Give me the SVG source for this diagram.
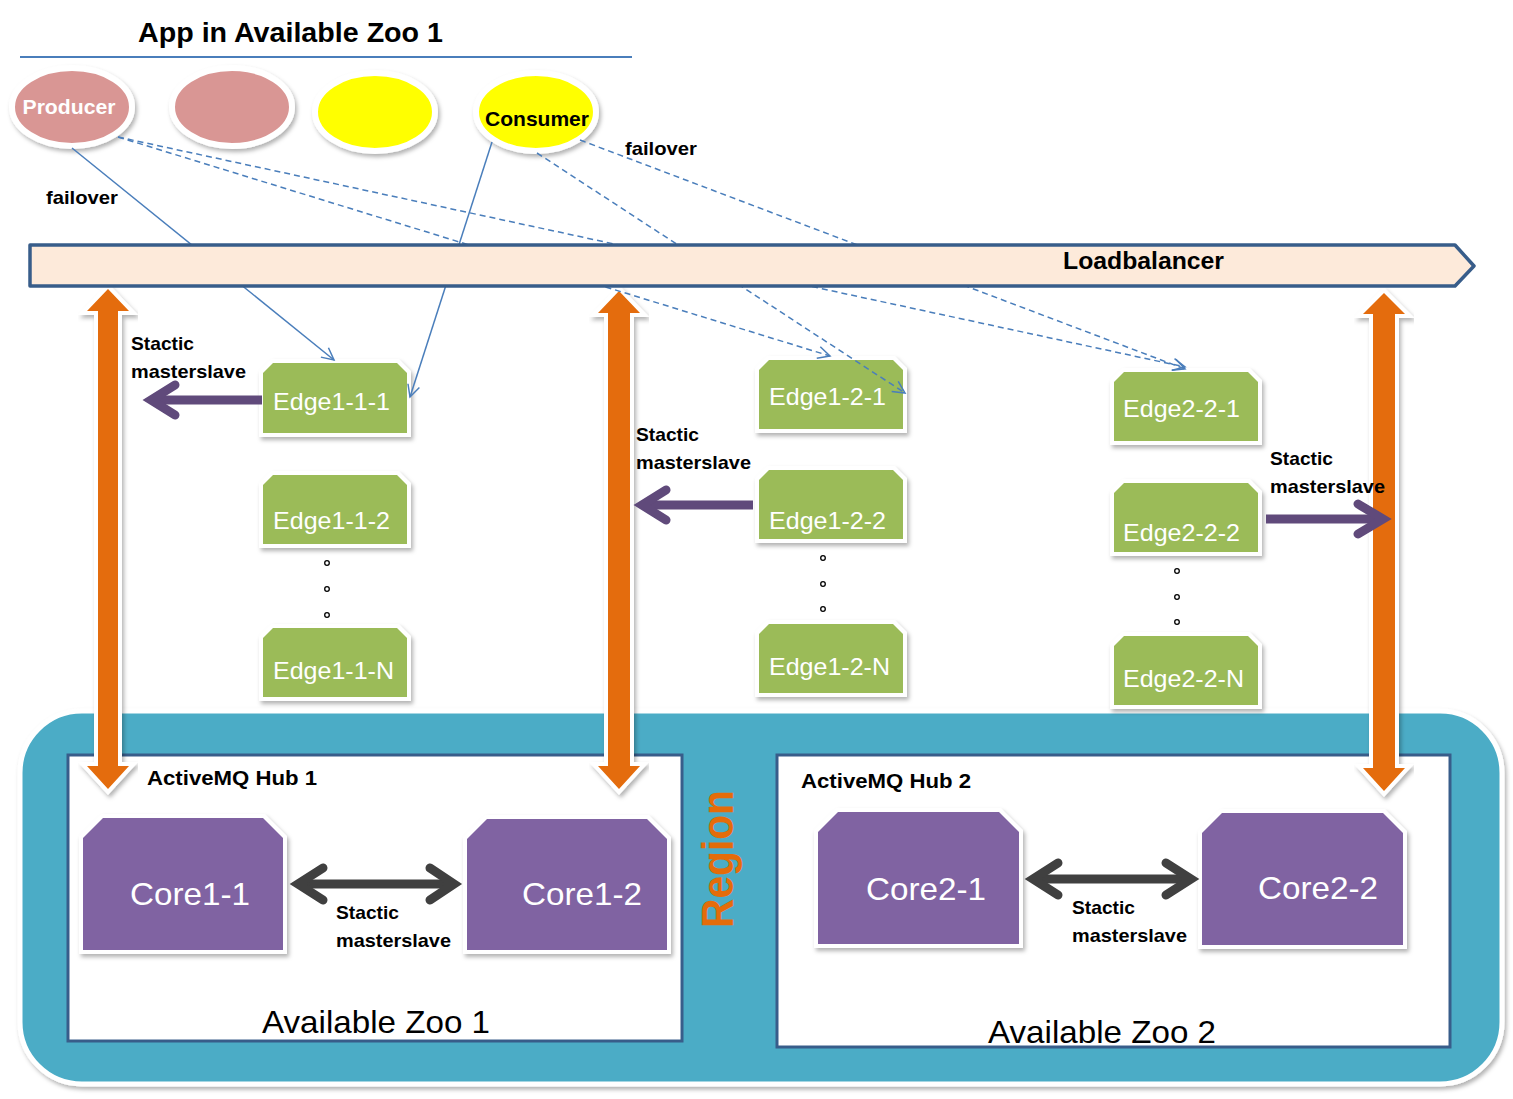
<svg xmlns="http://www.w3.org/2000/svg" width="1513" height="1099" viewBox="0 0 1513 1099">
<defs>
<style>
text{font-family:"Liberation Sans",Arial,sans-serif;}
.b{font-weight:bold;}
.lbl{font-size:19px;font-weight:bold;fill:#000;}
.edge polygon{fill:#9BBB59;stroke:#fff;stroke-width:8;paint-order:stroke;stroke-linejoin:miter;filter:url(#sh);}
.edge text{font-size:24px;fill:#fff;}
.core polygon{fill:#8064A2;stroke:#fff;stroke-width:8;paint-order:stroke;stroke-linejoin:miter;filter:url(#sh);}
.core text{font-size:32px;fill:#fff;}
.ell{stroke:#fff;stroke-width:6;filter:url(#sh);}
.oarr{fill:#E46C0A;stroke:#fff;stroke-width:8;paint-order:stroke;stroke-linejoin:miter;filter:url(#sh);}
.parr{fill:none;stroke:#604A7B;stroke-width:9;stroke-linecap:round;stroke-linejoin:miter;}
.garr{fill:none;stroke:#404040;stroke-width:9;stroke-linecap:round;stroke-linejoin:miter;}
.shaft{stroke-linecap:butt;}
.conn{fill:none;stroke:#4A7EBB;stroke-width:1.5;}
.dash{stroke-dasharray:6 4;}
.zoo{fill:#fff;stroke:#385D8A;stroke-width:3;}
</style>
<filter id="sh" x="-20%" y="-20%" width="140%" height="140%">
<feDropShadow dx="2" dy="3" stdDeviation="2" flood-color="#000" flood-opacity="0.3"/>
</filter>
<marker id="ah" markerUnits="userSpaceOnUse" markerWidth="16" markerHeight="16" viewBox="0 0 16 16" refX="14" refY="8" orient="auto">
<path d="M2,2 L14,8 L2,14" fill="none" stroke="#4A7EBB" stroke-width="1.5" stroke-dasharray="none"/>
</marker>
</defs>

<!-- Title -->
<g id="title">
<text class="b" x="138" y="42" font-size="28" textLength="305" lengthAdjust="spacingAndGlyphs">App in Available Zoo 1</text>
<line x1="20" y1="57" x2="632" y2="57" stroke="#4A7EBB" stroke-width="2"/>
</g>

<!-- Region -->
<g id="region">
<rect x="20" y="711" width="1482" height="373" rx="62" ry="62" fill="#4BACC6" stroke="#fff" stroke-width="5" filter="url(#sh)"/>
<text class="b" transform="translate(733,859) rotate(-90)" x="0" y="0" text-anchor="middle" font-size="44" fill="#E46C0A" textLength="138" lengthAdjust="spacingAndGlyphs">Region</text>
</g>

<g id="zoo1">
<rect class="zoo" x="68" y="755" width="614" height="286"/>
<text class="b" x="147" y="785" font-size="20" textLength="170" lengthAdjust="spacingAndGlyphs">ActiveMQ Hub 1</text>
<text x="262" y="1033" font-size="32" textLength="228" lengthAdjust="spacingAndGlyphs">Available Zoo 1</text>
</g>
<g id="zoo2">
<rect class="zoo" x="777" y="755" width="673" height="292"/>
<text class="b" x="801" y="788" font-size="20" textLength="170" lengthAdjust="spacingAndGlyphs">ActiveMQ Hub 2</text>
<text x="988" y="1043" font-size="32" textLength="228" lengthAdjust="spacingAndGlyphs">Available Zoo 2</text>
</g>

<!-- Cores -->
<g id="core1-1" class="core">
<polygon points="103,818 263,818 283,838 283,950 83,950 83,838"/>
<text x="130" y="905" textLength="120" lengthAdjust="spacingAndGlyphs">Core1-1</text>
</g>
<g id="core1-2" class="core">
<polygon points="487,819 647,819 667,839 667,950 467,950 467,839"/>
<text x="522" y="905" textLength="120" lengthAdjust="spacingAndGlyphs">Core1-2</text>
</g>
<g id="core2-1" class="core">
<polygon points="838,812 999,812 1019,832 1019,944 818,944 818,832"/>
<text x="866" y="900" textLength="120" lengthAdjust="spacingAndGlyphs">Core2-1</text>
</g>
<g id="core2-2" class="core">
<polygon points="1222,813 1383,813 1403,833 1403,945 1202,945 1202,833"/>
<text x="1258" y="899" textLength="120" lengthAdjust="spacingAndGlyphs">Core2-2</text>
</g>

<!-- Edges -->
<g id="edge1-1-1" class="edge">
<polygon points="273,363 397,363 407,373 407,433 263,433 263,373"/>
<text x="273" y="410" textLength="117" lengthAdjust="spacingAndGlyphs">Edge1-1-1</text>
</g>
<g id="edge1-1-2" class="edge">
<polygon points="273,475 397,475 407,485 407,544 263,544 263,485"/>
<text x="273" y="529" textLength="117" lengthAdjust="spacingAndGlyphs">Edge1-1-2</text>
</g>
<g id="edge1-1-n" class="edge">
<polygon points="273,628 397,628 407,638 407,697 263,697 263,638"/>
<text x="273" y="679" textLength="121" lengthAdjust="spacingAndGlyphs">Edge1-1-N</text>
</g>
<g id="edge1-2-1" class="edge">
<polygon points="769,360 893,360 903,370 903,429 759,429 759,370"/>
<text x="769" y="405" textLength="117" lengthAdjust="spacingAndGlyphs">Edge1-2-1</text>
</g>
<g id="edge1-2-2" class="edge">
<polygon points="769,470 893,470 903,480 903,539 759,539 759,480"/>
<text x="769" y="529" textLength="117" lengthAdjust="spacingAndGlyphs">Edge1-2-2</text>
</g>
<g id="edge1-2-n" class="edge">
<polygon points="769,624 893,624 903,634 903,693 759,693 759,634"/>
<text x="769" y="675" textLength="121" lengthAdjust="spacingAndGlyphs">Edge1-2-N</text>
</g>
<g id="edge2-2-1" class="edge">
<polygon points="1124,372 1248,372 1258,382 1258,441 1114,441 1114,382"/>
<text x="1123" y="417" textLength="117" lengthAdjust="spacingAndGlyphs">Edge2-2-1</text>
</g>
<g id="edge2-2-2" class="edge">
<polygon points="1124,483 1248,483 1258,493 1258,552 1114,552 1114,493"/>
<text x="1123" y="541" textLength="117" lengthAdjust="spacingAndGlyphs">Edge2-2-2</text>
</g>
<g id="edge2-2-n" class="edge">
<polygon points="1124,636 1248,636 1258,646 1258,705 1114,705 1114,646"/>
<text x="1123" y="687" textLength="121" lengthAdjust="spacingAndGlyphs">Edge2-2-N</text>
</g>

<!-- ellipsis dots -->
<g id="dots" fill="#fff" stroke="#000" stroke-width="1.3">
<circle cx="327" cy="563" r="2.3"/><circle cx="327" cy="589" r="2.3"/><circle cx="327" cy="615" r="2.3"/>
<circle cx="823" cy="558" r="2.3"/><circle cx="823" cy="584" r="2.3"/><circle cx="823" cy="609" r="2.3"/>
<circle cx="1177" cy="571" r="2.3"/><circle cx="1177" cy="597" r="2.3"/><circle cx="1177" cy="622" r="2.3"/>
</g>

<!-- Apps -->
<g id="producer">
<ellipse class="ell" cx="72" cy="107" rx="60" ry="39" fill="#D99694"/>
<text class="b" x="69" y="114" font-size="21" fill="#fff" text-anchor="middle" textLength="93" lengthAdjust="spacingAndGlyphs">Producer</text>
</g>
<g id="app2">
<ellipse class="ell" cx="232" cy="107" rx="60" ry="39" fill="#D99694"/>
</g>
<g id="app3">
<ellipse class="ell" cx="375" cy="112" rx="60" ry="39" fill="#FFFF00"/>
</g>
<g id="consumer">
<ellipse class="ell" cx="536" cy="112" rx="60" ry="39" fill="#FFFF00"/>
<text class="b" x="537" y="126" font-size="21" fill="#000" text-anchor="middle" textLength="104" lengthAdjust="spacingAndGlyphs">Consumer</text>
</g>

<!-- Connectors -->
<g id="connectors">
<!-- orange double arrows -->
<polygon class="oarr" points="108,289 129,311 118,311 118,766 129,766 108,789 87,766 98,766 98,311 87,311"/>
<polygon class="oarr" points="619,291 640,313 630,313 630,766 640,766 619,789 598,766 608,766 608,313 598,313"/>
<polygon class="oarr" points="1384,293 1405,314 1395,314 1395,768 1405,768 1384,791 1363,768 1373,768 1373,314 1363,314"/>

<!-- purple arrows -->
<path class="parr shaft" d="M262,400 H154"/>
<path class="parr" d="M175,385 L151,400 L175,415"/>
<path class="parr shaft" d="M753,505 H645"/>
<path class="parr" d="M666,490 L642,505 L666,520"/>
<path class="parr shaft" d="M1266,519 H1380"/>
<path class="parr" d="M1358,504 L1383,519 L1358,534"/>

<!-- gray double arrows -->
<path class="garr shaft" d="M300,884 H452"/>
<path class="garr" d="M323,868 L298,884 L323,900"/>
<path class="garr" d="M430,868 L454,884 L430,900"/>
<path class="garr shaft" d="M1035,879 H1189"/>
<path class="garr" d="M1058,863 L1033,879 L1058,895"/>
<path class="garr" d="M1166,863 L1191,879 L1166,895"/>

<!-- blue connectors -->
<line class="conn" x1="72" y1="148" x2="334" y2="360" marker-end="url(#ah)"/>
<line class="conn" x1="492" y1="142" x2="410" y2="397" marker-end="url(#ah)"/>
<line class="conn dash" x1="118" y1="137" x2="830" y2="356" marker-end="url(#ah)"/>
<line class="conn dash" x1="118" y1="137" x2="1185" y2="367" marker-end="url(#ah)"/>
<line class="conn dash" x1="537" y1="153" x2="905" y2="393" marker-end="url(#ah)"/>
<line class="conn dash" x1="580" y1="140" x2="1185" y2="369" marker-end="url(#ah)"/>
</g>

<!-- Loadbalancer -->
<g id="loadbalancer">
<polygon points="30,245 1455,245 1474,266 1455,286 30,286" fill="#FDEADA" stroke="#385D8A" stroke-width="3.5" stroke-linejoin="round"/>
<text class="b" x="1063" y="269" font-size="24" textLength="161" lengthAdjust="spacingAndGlyphs">Loadbalancer</text>
</g>

<!-- labels -->
<g id="labels">
<text class="lbl" x="46" y="204" textLength="72" lengthAdjust="spacingAndGlyphs">failover</text>
<text class="lbl" x="625" y="155" textLength="72" lengthAdjust="spacingAndGlyphs">failover</text>
<text class="lbl" x="131" y="350" textLength="63" lengthAdjust="spacingAndGlyphs">Stactic</text>
<text class="lbl" x="131" y="378" textLength="115" lengthAdjust="spacingAndGlyphs">masterslave</text>
<text class="lbl" x="636" y="441" textLength="63" lengthAdjust="spacingAndGlyphs">Stactic</text>
<text class="lbl" x="636" y="469" textLength="115" lengthAdjust="spacingAndGlyphs">masterslave</text>
<text class="lbl" x="1270" y="465" textLength="63" lengthAdjust="spacingAndGlyphs">Stactic</text>
<text class="lbl" x="1270" y="493" textLength="115" lengthAdjust="spacingAndGlyphs">masterslave</text>
<text class="lbl" x="336" y="919" textLength="63" lengthAdjust="spacingAndGlyphs">Stactic</text>
<text class="lbl" x="336" y="947" textLength="115" lengthAdjust="spacingAndGlyphs">masterslave</text>
<text class="lbl" x="1072" y="914" textLength="63" lengthAdjust="spacingAndGlyphs">Stactic</text>
<text class="lbl" x="1072" y="942" textLength="115" lengthAdjust="spacingAndGlyphs">masterslave</text>
</g>
</svg>
